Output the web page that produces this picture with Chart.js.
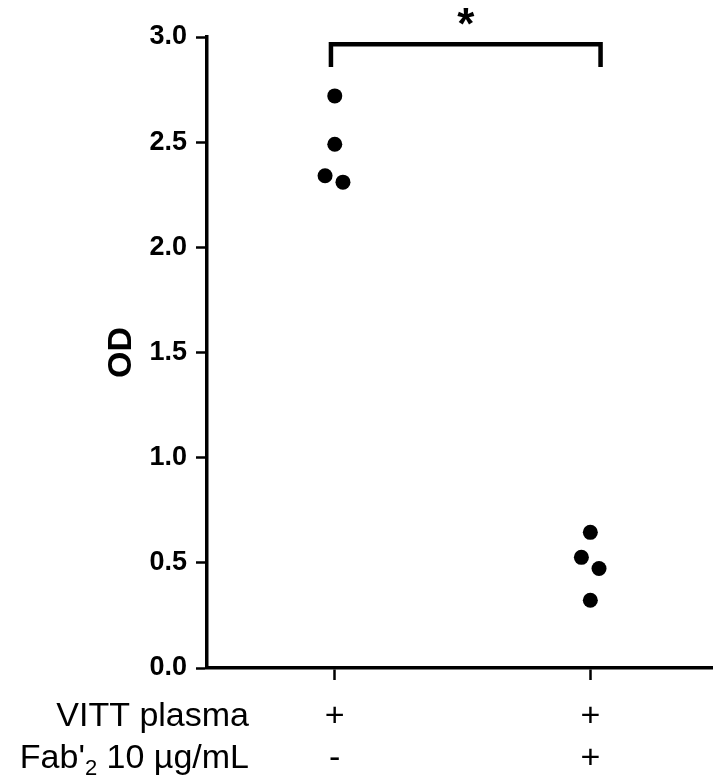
<!DOCTYPE html>
<html>
<head>
<meta charset="utf-8">
<script src="https://cdn.jsdelivr.net/npm/chart.js@4.4.1/dist/chart.umd.min.js"></script>
<style>
  html, body { margin: 0; padding: 0; background: #fff; }
  #wrap { width: 713px; height: 779px; position: relative; }
</style>
</head>
<body>
<div id="wrap"><canvas id="od_chart"></canvas></div>
<script>
// group positions on the x axis and the two condition rows under them
const groupPos = [1, 2];
const vittRow = ['+', '+'];
const fabRow = ['-', '+'];
const rowHeaders = ['VITT plasma', "Fab'2 10 µg/mL"];

// VITT plasma alone
const ctrlX = [1.0, 1.0, 0.962, 1.032];
const ctrlOD = [2.72, 2.49, 2.34, 2.31];
// VITT plasma + Fab'2
const fabX = [2.0, 1.965, 2.034, 2.0];
const fabOD = [0.645, 0.526, 0.473, 0.322];

const yTicks = [0, 0.5, 1.0, 1.5, 2.0, 2.5, 3.0];

// significance bracket between the two groups
const bracketX = [0.985, 2.04];
const bracketTop = 2.965;
const bracketLeg = 2.857;
const sigLabel = '*';

const FONT = '"Liberation Sans", Arial, sans-serif';

const extrasPlugin = {
  id: 'extras',
  afterDraw(chart) {
    const ctx = chart.ctx;
    const xs = chart.scales.x;
    const ys = chart.scales.y;
    ctx.save();

    // bracket
    const x1 = xs.getPixelForValue(bracketX[0]);
    const x2 = xs.getPixelForValue(bracketX[1]);
    const yt = ys.getPixelForValue(bracketTop);
    const yl = ys.getPixelForValue(bracketLeg);
    ctx.strokeStyle = '#000';
    ctx.lineWidth = 4.5;
    ctx.lineJoin = 'miter';
    ctx.beginPath();
    ctx.moveTo(x1, yl);
    ctx.lineTo(x1, yt);
    ctx.lineTo(x2, yt);
    ctx.lineTo(x2, yl);
    ctx.stroke();

    // asterisk, centred above the bracket
    ctx.fillStyle = '#000';
    ctx.font = 'bold 44px ' + FONT;
    ctx.textAlign = 'center';
    ctx.textBaseline = 'alphabetic';
    const m = ctx.measureText(sigLabel);
    const cy = yt - 28;
    const base = cy - (m.actualBoundingBoxDescent - m.actualBoundingBoxAscent) / 2;
    ctx.fillText(sigLabel, (x1 + x2) / 2, base);

    // row headers left of the condition table
    const right = 249;
    const row1 = chart.chartArea.bottom + 58;
    const row2 = row1 + 42;
    ctx.font = '34px ' + FONT;
    ctx.textAlign = 'right';
    ctx.textBaseline = 'alphabetic';
    ctx.fillText(rowHeaders[0], right, row1);

    // second header with subscript 2
    const parts = rowHeaders[1].split('2');
    const pre = parts[0];
    const post = parts.slice(1).join('2');
    ctx.font = '34px ' + FONT;
    const wPre = ctx.measureText(pre).width;
    const wPost = ctx.measureText(post).width;
    ctx.font = '22px ' + FONT;
    const wSub = ctx.measureText('2').width;
    let x = right - wPost - wSub - wPre;
    ctx.textAlign = 'left';
    ctx.font = '34px ' + FONT;
    ctx.fillText(pre, x, row2);
    x += wPre;
    ctx.font = '22px ' + FONT;
    ctx.fillText('2', x, row2 + 7);
    x += wSub;
    ctx.font = '34px ' + FONT;
    ctx.fillText(post, x, row2);

    ctx.restore();
  }
};

Chart.defaults.color = '#000';

const ctx = document.getElementById('od_chart').getContext('2d');
const odChart = new Chart(ctx, {
  type: 'scatter',
  data: {
    datasets: [
      {
        label: 'VITT plasma',
        data: ctrlX.map((x, i) => ({ x: x, y: ctrlOD[i] })),
        backgroundColor: '#000',
        borderWidth: 0,
        pointRadius: 7.5,
        pointHoverRadius: 7.5
      },
      {
        label: "VITT plasma + Fab'2",
        data: fabX.map((x, i) => ({ x: x, y: fabOD[i] })),
        backgroundColor: '#000',
        borderWidth: 0,
        pointRadius: 7.5,
        pointHoverRadius: 7.5
      }
    ]
  },
  options: {
    responsive: true,
    maintainAspectRatio: false,
    animation: false,
    layout: { autoPadding: false, padding: { top: 37, right: 0, bottom: 0, left: 0 } },
    plugins: {
      legend: { display: false },
      tooltip: { enabled: false }
    },
    scales: {
      x: {
        type: 'linear',
        min: 0.5,
        max: 2.48,
        afterBuildTicks: scale => {
          scale.ticks = groupPos.map(v => ({ value: v }));
        },
        afterFit: scale => {
          scale.height = 111;
          scale.paddingLeft = 0;
          scale.paddingRight = 0;
        },
        border: { display: true, color: '#000', width: 3.5 },
        grid: {
          drawOnChartArea: false,
          drawTicks: true,
          tickLength: 12,
          tickWidth: 2.5,
          tickColor: '#000'
        },
        ticks: {
          autoSkip: false,
          maxRotation: 0,
          padding: 15,
          font: { family: FONT, size: 34, lineHeight: 1.25 },
          callback: (value, index) => [vittRow[index], fabRow[index]]
        }
      },
      y: {
        min: 0,
        max: 3,
        afterBuildTicks: scale => {
          scale.ticks = yTicks.map(v => ({ value: v }));
        },
        afterFit: scale => { scale.width = 207; },
        border: { display: true, color: '#000', width: 3.5 },
        grid: {
          drawOnChartArea: false,
          drawTicks: true,
          tickLength: 11,
          tickWidth: 2.5,
          tickColor: '#000'
        },
        ticks: {
          padding: 9,
          font: { family: FONT, size: 27, weight: 'bold' },
          callback: value => value.toFixed(1)
        },
        title: {
          display: true,
          text: 'OD',
          padding: { top: 101, bottom: 0 },
          font: { family: FONT, size: 34, weight: 'bold' }
        }
      }
    }
  },
  plugins: [extrasPlugin]
});
</script>
</body>
</html>
